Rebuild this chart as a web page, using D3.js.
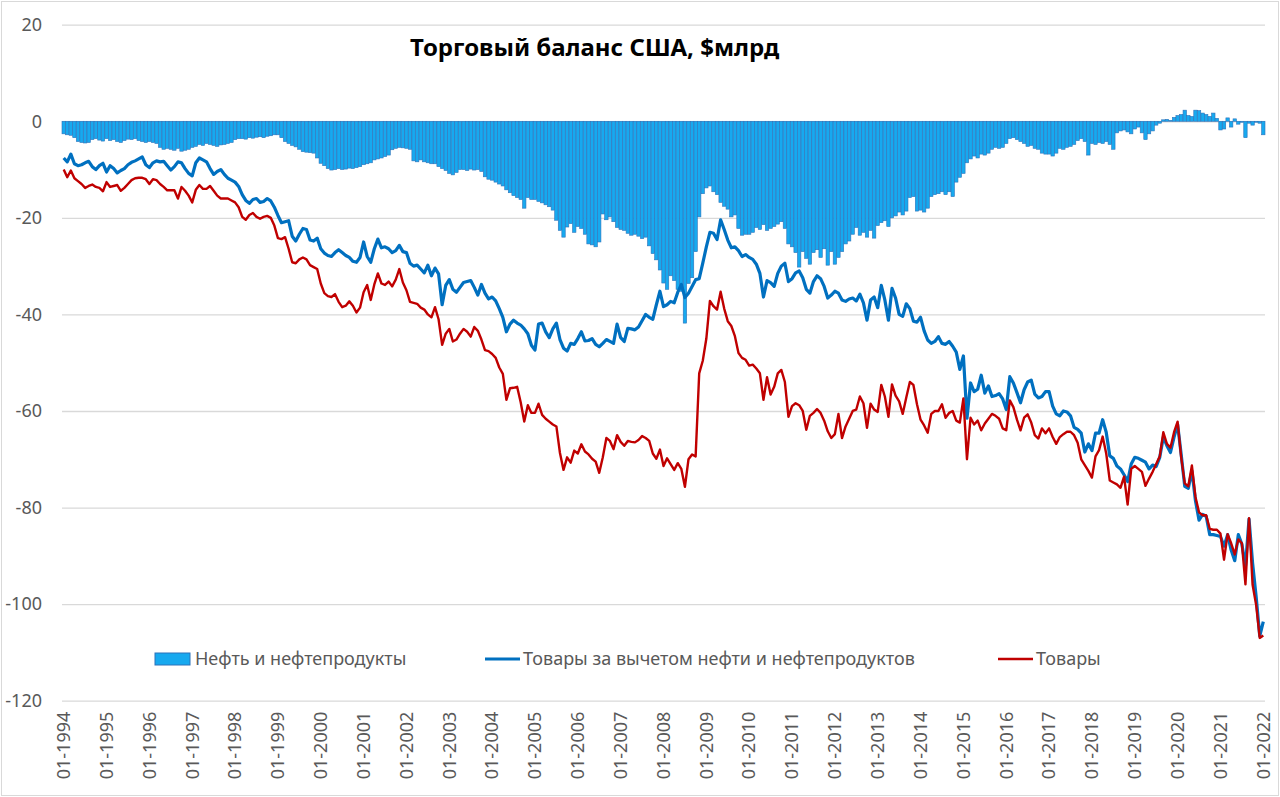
<!DOCTYPE html>
<html>
<head>
<meta charset="utf-8">
<script src="https://cdn.jsdelivr.net/npm/d3@7"></script>
<style>
  body { margin: 0; background: #fff; }
  svg { display: block; font-family: "Noto Sans", sans-serif; }
</style>
</head>
<body>
<svg id="chart" width="1280" height="797"></svg>
<script>
// monthly values, $bn, 01-1994 .. 01-2022 (one row per year)
const oil = [
  -2.6,-2.8,-2.9,-3.4,-4.2,-4.4,-4.5,-4.4,-3.8,-3.6,-3.9,-4.1,
  -3.6,-4.0,-3.8,-4.2,-4.4,-4.0,-3.7,-3.8,-3.6,-4.0,-4.2,-4.4,
  -4.2,-4.4,-4.6,-5.4,-5.8,-5.6,-5.8,-6.0,-5.6,-6.2,-6.0,-5.8,
  -5.4,-5.2,-4.8,-5.0,-4.6,-4.8,-5.0,-5.2,-4.9,-4.8,-4.6,-4.4,
  -3.8,-3.6,-3.6,-3.7,-3.4,-3.5,-3.3,-3.2,-3.4,-3.1,-3.0,-2.8,
  -2.8,-3.4,-4.2,-4.6,-5.0,-5.3,-5.8,-6.3,-6.4,-6.5,-6.6,-7.6,
  -8.7,-9.2,-9.8,-10.1,-10.0,-9.8,-10.0,-9.9,-9.7,-9.8,-9.6,-9.4,
  -9.0,-8.8,-8.6,-8.0,-7.8,-7.6,-7.3,-7.0,-5.9,-5.6,-5.4,-5.5,
  -5.6,-5.8,-8.2,-8.4,-8.0,-8.4,-8.6,-8.8,-8.8,-9.4,-9.8,-10.2,
  -10.8,-11.1,-10.6,-10.0,-10.0,-10.2,-9.9,-10.1,-10.0,-10.4,-11.5,-12.0,
  -12.2,-12.6,-13.0,-13.4,-14.2,-14.8,-15.4,-15.8,-16.2,-18.0,-15.8,-16.2,
  -16.2,-16.6,-16.9,-17.3,-17.7,-18.4,-20.5,-22.6,-24.0,-21.9,-21.2,-23.0,
  -21.8,-22.2,-23.4,-25.4,-25.6,-26.0,-25.0,-19.2,-20.4,-19.8,-20.8,-22.0,
  -22.4,-22.6,-23.2,-23.6,-23.4,-23.8,-24.3,-24.0,-25.8,-27.4,-28.7,-30.8,
  -33.5,-34.8,-32.0,-33.0,-34.8,-35.2,-41.8,-33.6,-32.4,-27.0,-19.8,-15.0,
  -13.8,-13.4,-14.6,-15.2,-16.8,-17.6,-18.2,-19.8,-19.4,-22.2,-23.6,-23.4,
  -23.4,-23.0,-22.0,-22.4,-21.4,-22.6,-22.2,-21.8,-21.3,-20.8,-22.2,-25.4,
  -26.0,-27.2,-30.2,-27.0,-28.4,-29.6,-27.2,-26.6,-28.2,-26.4,-29.8,-27.0,
  -29.6,-28.2,-27.0,-25.4,-24.8,-23.4,-22.0,-23.6,-23.0,-24.0,-22.6,-24.2,
  -21.6,-21.0,-20.6,-21.8,-20.0,-19.6,-18.8,-19.4,-18.6,-15.8,-15.6,-18.6,
  -18.4,-18.8,-18.0,-15.6,-15.2,-15.0,-14.6,-15.2,-14.6,-15.6,-12.6,-11.6,
  -10.8,-8.6,-7.8,-7.2,-7.6,-6.8,-7.0,-6.6,-5.8,-5.4,-5.6,-5.4,
  -4.6,-3.6,-3.4,-3.8,-4.2,-4.6,-5.2,-5.0,-5.6,-5.8,-6.6,-6.8,
  -6.8,-7.2,-6.6,-5.6,-5.8,-5.4,-5.2,-4.8,-4.0,-3.6,-4.2,-7.0,
  -4.6,-4.8,-4.4,-4.6,-4.2,-4.8,-5.8,-2.4,-2.0,-1.8,-2.2,-2.6,
  -1.6,-1.2,-2.4,-3.8,-2.6,-2.0,-0.8,-0.4,0.3,0.4,0.2,0.8,
  1.2,1.4,2.3,1.2,1.0,2.3,2.2,1.7,1.4,1.0,1.7,0.6,
  -1.8,-1.6,0.7,-1.2,0.5,-0.6,-0.2,-3.4,-0.4,-0.8,-0.2,-0.4,
  -2.8
]

const nonOil = [
  -7.6,-8.4,-6.8,-8.8,-9.2,-9.0,-8.6,-8.3,-9.4,-10.0,-9.2,-8.7,
  -10.5,-9.2,-9.8,-10.7,-10.2,-9.8,-9.0,-8.5,-8.2,-7.8,-7.4,-9.0,
  -9.6,-8.6,-8.2,-8.4,-8.3,-9.2,-10.1,-9.4,-8.4,-8.6,-9.8,-10.8,
  -11.3,-8.6,-7.6,-8.0,-8.4,-9.8,-11.0,-10.4,-10.0,-11.0,-11.8,-12.2,
  -12.6,-13.5,-15.2,-16.4,-17.0,-16.2,-16.0,-16.8,-16.6,-16.0,-16.5,-17.8,
  -19.5,-21.0,-20.8,-20.6,-23.8,-24.8,-23.4,-22.2,-22.4,-24.6,-24.8,-24.2,
  -26.4,-27.3,-27.8,-28.0,-27.2,-26.6,-27.2,-27.8,-28.2,-29.0,-29.2,-28.2,
  -25.0,-28.0,-29.2,-26.4,-24.4,-26.2,-26.0,-26.4,-27.2,-26.8,-25.7,-27.0,
  -27.2,-29.4,-30.0,-29.8,-30.6,-31.4,-29.8,-32.0,-30.4,-31.6,-38.0,-34.0,
  -32.8,-34.8,-35.4,-34.4,-33.4,-33.2,-33.0,-34.4,-36.0,-33.8,-35.6,-36.8,
  -36.4,-37.2,-38.8,-40.6,-43.6,-42.0,-41.2,-41.8,-42.2,-43.0,-44.0,-46.4,
  -47.4,-42.0,-41.8,-43.6,-44.8,-43.0,-41.8,-45.2,-47.0,-47.6,-46.0,-46.2,
  -45.0,-43.6,-45.5,-45.4,-45.0,-46.2,-46.7,-46.0,-45.2,-45.6,-46.0,-42.0,
  -44.8,-45.6,-42.9,-43.0,-43.2,-42.6,-41.3,-40.0,-40.6,-41.0,-38.0,-35.2,
  -38.4,-38.0,-37.3,-37.6,-35.4,-33.8,-36.5,-35.6,-34.2,-32.8,-32.6,-29.4,
  -26.0,-23.0,-23.2,-24.5,-20.4,-22.4,-24.6,-26.2,-26.0,-26.8,-28.0,-27.6,
  -28.2,-28.6,-29.6,-31.5,-36.4,-33.0,-33.4,-34.2,-31.5,-30.0,-29.4,-33.2,
  -32.6,-31.4,-31.0,-32.4,-34.8,-35.6,-33.2,-32.0,-32.6,-34.2,-36.6,-36.0,
  -35.2,-35.6,-37.0,-37.3,-36.8,-36.6,-37.2,-35.8,-37.6,-41.2,-37.0,-36.4,
  -38.6,-34.0,-37.0,-41.2,-34.6,-36.6,-40.0,-40.4,-37.8,-38.8,-41.4,-41.6,
  -40.6,-43.4,-45.3,-46.0,-45.6,-44.6,-46.0,-46.2,-45.6,-46.6,-47.8,-51.4,
  -48.6,-61.5,-54.2,-56.0,-55.5,-52.6,-56.3,-54.8,-57.0,-56.8,-56.4,-57.5,
  -59.7,-52.9,-54.2,-56.2,-58.3,-55.6,-54.0,-53.6,-56.5,-57.3,-57.0,-56.0,
  -56.0,-59.0,-60.6,-61.0,-60.0,-60.2,-61.0,-63.4,-63.8,-64.6,-68.5,-66.8,
  -68.2,-64.6,-64.6,-61.8,-64.4,-69.3,-69.8,-71.4,-72.0,-73.2,-74.6,-71.0,
  -69.6,-69.8,-70.2,-70.6,-72.0,-71.2,-71.5,-69.6,-65.4,-67.2,-68.6,-65.4,
  -62.8,-69.0,-75.6,-76.0,-72.4,-78.6,-82.6,-81.4,-81.8,-85.6,-85.6,-85.8,
  -86.0,-88.0,-85.6,-88.8,-91.0,-85.6,-87.6,-92.2,-82.4,-91.5,-98.5,-106.6,
  -103.6
]

const goods = [
  -10.0,-11.6,-10.2,-11.8,-12.4,-13.0,-13.8,-13.4,-13.1,-13.6,-13.8,-14.5,
  -12.6,-13.6,-13.4,-13.2,-14.4,-13.8,-13.0,-12.2,-11.8,-11.7,-11.7,-12.0,
  -13.0,-12.0,-12.2,-13.0,-13.6,-14.3,-14.3,-14.3,-16.0,-13.6,-14.4,-15.4,
  -16.8,-14.2,-13.2,-14.0,-14.0,-13.4,-14.4,-15.4,-16.0,-16.0,-16.0,-16.4,
  -16.8,-17.8,-19.8,-20.4,-19.4,-19.0,-19.8,-20.2,-19.8,-19.6,-20.0,-21.6,
  -24.2,-24.4,-24.0,-26.4,-29.2,-29.4,-28.6,-28.2,-28.6,-29.8,-30.2,-30.6,
  -33.6,-35.6,-36.2,-36.4,-35.8,-37.4,-38.5,-38.2,-37.3,-38.2,-39.6,-38.6,
  -35.4,-33.9,-37.0,-33.8,-31.5,-33.6,-33.9,-33.2,-34.2,-32.8,-30.6,-33.4,
  -35.0,-37.4,-37.6,-37.8,-38.6,-39.0,-40.0,-40.6,-38.5,-41.0,-46.3,-44.0,
  -43.0,-45.6,-45.2,-44.0,-43.0,-43.6,-44.6,-42.6,-43.4,-45.2,-47.4,-47.6,
  -48.2,-49.0,-51.0,-52.3,-57.7,-55.3,-55.2,-55.0,-58.2,-62.2,-58.8,-60.4,
  -60.4,-58.5,-60.8,-61.6,-62.2,-62.8,-63.2,-68.7,-72.2,-69.6,-70.7,-68.2,
  -68.8,-66.9,-68.4,-69.0,-69.9,-70.5,-72.8,-69.6,-65.6,-66.2,-67.9,-65.0,
  -66.4,-67.2,-66.2,-66.4,-66.5,-66.0,-65.2,-65.6,-66.2,-68.8,-69.9,-68.0,
  -71.4,-69.8,-71.0,-72.2,-70.8,-72.0,-75.7,-70.0,-69.0,-69.4,-52.2,-49.6,
  -45.0,-37.2,-38.3,-39.0,-35.3,-38.8,-41.4,-42.4,-44.5,-48.0,-49.0,-49.4,
  -50.6,-50.4,-51.2,-52.2,-57.7,-53.0,-56.6,-55.0,-52.2,-51.5,-54.0,-61.2,
  -59.0,-58.4,-58.8,-60.0,-63.9,-61.0,-60.4,-59.6,-60.4,-62.0,-64.2,-65.6,
  -64.8,-60.6,-65.6,-63.2,-61.6,-60.0,-59.7,-57.0,-58.4,-63.5,-58.5,-59.7,
  -60.2,-54.6,-57.0,-61.2,-54.5,-56.8,-58.0,-60.6,-57.2,-54.0,-54.6,-58.6,
  -61.8,-63.0,-64.5,-60.6,-60.0,-60.0,-58.6,-61.4,-60.4,-60.0,-62.0,-62.4,
  -57.4,-70.0,-61.4,-62.8,-62.0,-64.0,-62.6,-61.6,-60.6,-61.0,-61.6,-63.6,
  -64.0,-57.8,-59.2,-61.8,-64.0,-61.4,-60.7,-62.4,-65.0,-65.7,-63.6,-64.6,
  -63.6,-65.4,-66.8,-65.4,-64.8,-64.3,-64.3,-65.0,-66.6,-70.0,-71.2,-72.4,
  -73.8,-69.4,-68.1,-65.3,-68.8,-74.4,-74.8,-75.2,-75.9,-73.6,-79.4,-72.0,
  -71.4,-72.0,-72.6,-75.5,-74.0,-72.6,-71.0,-69.4,-64.4,-66.8,-67.6,-64.4,
  -62.2,-69.6,-75.0,-75.6,-71.3,-77.8,-81.0,-81.6,-81.6,-84.4,-84.6,-84.6,
  -85.4,-90.8,-85.5,-87.4,-89.7,-86.6,-87.4,-95.9,-82.2,-96.0,-100.2,-107.0,
  -106.5
]

const yTicks = [20, 0, -20, -40, -60, -80, -100, -120]
const seriesNames = ["Нефть и нефтепродукты", "Товары за вычетом нефти и нефтепродуктов", "Товары"]
const title = "Торговый баланс США, $млрд"

const months = d3.timeMonth.range(new Date(1994, 0, 1), new Date(2022, 1, 1))
const fmt = d3.timeFormat("%m-%Y")

const colors = { oilFill: "#17A9EF", oilStroke: "#2D72BA", nonOil: "#0070C0", goods: "#C00000" }
const plot = { left: 62, right: 1265, top: 24.7, bottom: 700.7 }

const svg = d3.select("#chart")

svg.append("rect")
  .attr("x", 1.5).attr("y", 1.5).attr("width", 1277).attr("height", 794)
  .attr("fill", "#fff").attr("stroke", "#d9d9d9")

const x = d3.scaleBand()
  .domain(months.map((d, i) => i))
  .range([plot.left, plot.right])
  .paddingInner(0.05)

const y = d3.scaleLinear().domain([-120, 20]).range([plot.bottom, plot.top])

const bw = x.bandwidth()
const cx = (i) => x(i) + bw / 2

// y axis with gridlines (plain hyphen like the original, not the unicode minus)
const yAxis = svg.append("g")
  .attr("transform", "translate(" + plot.left + ",0)")
  .call(d3.axisLeft(y)
    .tickValues(yTicks)
    .tickFormat((d) => String(d))
    .tickSize(-(plot.right - plot.left))
    .tickPadding(20))
yAxis.select(".domain").remove()
yAxis.selectAll("line").attr("stroke", "#d9d9d9").attr("stroke-width", 1.3)
yAxis.selectAll("text")
  .attr("fill", "#595959").attr("font-size", 18)
  .attr("font-family", "Noto Sans, sans-serif")

// x axis, a label every January
const xAxis = svg.append("g")
  .attr("transform", "translate(0," + plot.bottom + ")")
  .call(d3.axisBottom(x)
    .tickValues(months.map((d, i) => i).filter((i) => months[i].getMonth() === 0))
    .tickFormat((i) => fmt(months[i]))
    .tickSize(0))
xAxis.select(".domain").remove()
xAxis.selectAll("text")
  .attr("transform", "rotate(-90)")
  .attr("x", -11).attr("y", 0).attr("dy", "0.35em")
  .attr("text-anchor", "end")
  .attr("fill", "#595959").attr("font-size", 18)
  .attr("font-family", "Noto Sans, sans-serif")

// oil bars
svg.append("g").selectAll("rect")
  .data(oil)
  .enter().append("rect")
  .attr("x", (d, i) => x(i))
  .attr("width", bw)
  .attr("y", (d) => Math.min(y(d), y(0)))
  .attr("height", (d) => Math.abs(y(d) - y(0)))
  .attr("fill", colors.oilFill)
  .attr("stroke", colors.oilStroke)
  .attr("stroke-width", 0.6)

const line = d3.line().x((d, i) => cx(i)).y((d) => y(d))

svg.append("path")
  .datum(nonOil)
  .attr("d", line)
  .attr("fill", "none")
  .attr("stroke", colors.nonOil)
  .attr("stroke-width", 3.2)
  .attr("stroke-linejoin", "round")

svg.append("path")
  .datum(goods)
  .attr("d", line)
  .attr("fill", "none")
  .attr("stroke", colors.goods)
  .attr("stroke-width", 2.4)
  .attr("stroke-linejoin", "round")

// title
svg.append("text")
  .attr("x", 410).attr("y", 56)
  .attr("font-size", 24).attr("font-weight", "bold")
  .attr("fill", "#000")
  .text(title)

// legend
const legendY = 659
const legend = svg.append("g").attr("font-size", 18).attr("fill", "#595959")

legend.append("rect")
  .attr("x", 155).attr("y", legendY - 6).attr("width", 35).attr("height", 12)
  .attr("fill", colors.oilFill).attr("stroke", colors.oilStroke).attr("stroke-width", 1)
legend.append("text").attr("x", 195).attr("y", legendY).attr("dy", "0.35em").text(seriesNames[0])

legend.append("line")
  .attr("x1", 485).attr("x2", 520).attr("y1", legendY).attr("y2", legendY)
  .attr("stroke", colors.nonOil).attr("stroke-width", 3.2)
legend.append("text").attr("x", 523).attr("y", legendY).attr("dy", "0.35em").text(seriesNames[1])

legend.append("line")
  .attr("x1", 998).attr("x2", 1033).attr("y1", legendY).attr("y2", legendY)
  .attr("stroke", colors.goods).attr("stroke-width", 2.4)
legend.append("text").attr("x", 1036).attr("y", legendY).attr("dy", "0.35em").text(seriesNames[2])
</script>
</body>
</html>
